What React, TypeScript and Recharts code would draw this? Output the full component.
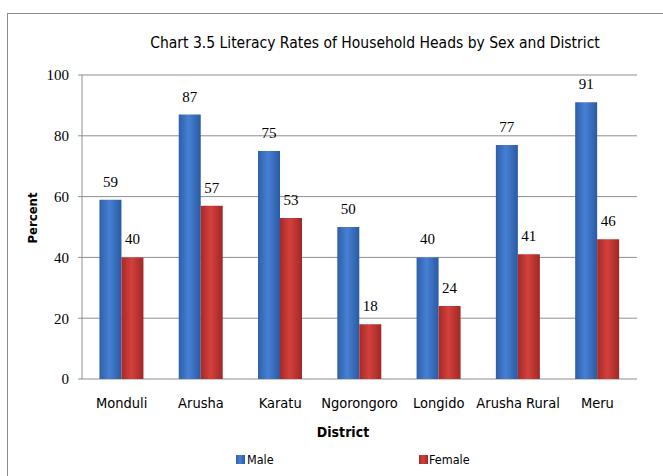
import React from "react";
import {
  BarChart,
  Bar,
  XAxis,
  YAxis,
  CartesianGrid,
  LabelList,
} from "recharts";

const districts = ["Monduli", "Arusha", "Karatu", "Ngorongoro", "Longido", "Arusha Rural", "Meru"];
const male = [59, 87, 75, 50, 40, 77, 91];
const female = [40, 57, 53, 18, 24, 41, 46];
const yTicks = [0, 20, 40, 60, 80, 100];
const boundaryTicks = [0, 1, 2, 3, 4, 5, 6, 7];

const data = districts.map((d, i) => ({ district: d, Male: male[i], Female: female[i] }));

const NARROW = "'DejaVu Sans Condensed', 'Liberation Sans Narrow', sans-serif";
const SERIF = "'Liberation Serif', 'DejaVu Serif', serif";

export default function App() {
  return (
    <div style={{ position: "absolute", left: 0, top: 0, width: 663, height: 476, overflow: "hidden", background: "#fff" }}>
      <div
        style={{
          position: "absolute",
          left: 7,
          top: 13,
          width: 700,
          height: 500,
          border: "1px solid #8c8c8c",
          boxSizing: "border-box",
        }}
      />
      <div style={{ position: "absolute", left: 0, top: 0 }}>
        <BarChart
          width={663}
          height={476}
          data={data}
          margin={{ top: 75, right: 26, bottom: 0, left: 0 }}
          barCategoryGap="22%"
          barGap={0}
        >
          <defs>
            <linearGradient id="gMale" x1="0" y1="0" x2="1" y2="0">
              <stop offset="0%" stopColor="#2f5fa8" />
              <stop offset="45%" stopColor="#4680d4" />
              <stop offset="100%" stopColor="#2b5aa2" />
            </linearGradient>
            <linearGradient id="gFemale" x1="0" y1="0" x2="1" y2="0">
              <stop offset="0%" stopColor="#a42a28" />
              <stop offset="45%" stopColor="#d4403b" />
              <stop offset="100%" stopColor="#a02826" />
            </linearGradient>
          </defs>
          <CartesianGrid vertical={false} stroke="#8f8f8f" strokeWidth={1} />
          <XAxis
            xAxisId="b"
            type="number"
            domain={[0, 7]}
            ticks={boundaryTicks}
            allowDataOverflow
            height={0}
            axisLine={{ stroke: "#8f8f8f" }}
            tickLine={{ stroke: "#8f8f8f" }}
            tickSize={5}
            tickFormatter={() => ""}
          />
          <XAxis
            xAxisId="cat"
            dataKey="district"
            height={97}
            axisLine={false}
            tickLine={false}
            tickMargin={13}
            tick={{ fill: "#000", fontSize: 14.5, fontFamily: NARROW }}
            interval={0}
          />
          <YAxis
            domain={[0, 100]}
            ticks={yTicks}
            width={82}
            axisLine={{ stroke: "#8f8f8f" }}
            tickLine={{ stroke: "#8f8f8f" }}
            tickSize={4}
            tickMargin={9}
            tick={{ fill: "#000", fontSize: 15, fontFamily: SERIF }}
          />
          <Bar xAxisId="cat" dataKey="Male" fill="url(#gMale)" isAnimationActive={false}>
            <LabelList dataKey="Male" position="top" offset={13} fill="#000" fontSize={15} fontFamily={SERIF} />
          </Bar>
          <Bar xAxisId="cat" dataKey="Female" fill="url(#gFemale)" isAnimationActive={false}>
            <LabelList dataKey="Female" position="top" offset={13} fill="#000" fontSize={15} fontFamily={SERIF} />
          </Bar>
          <text x={375} y={48} textAnchor="middle" fontSize={15.5} fontFamily={NARROW} fill="#000">
            Chart 3.5 Literacy Rates of Household Heads by Sex and District
          </text>
          <text x={343} y={437} textAnchor="middle" fontSize={14} fontWeight="bold" fontFamily={NARROW} fill="#000">
            District
          </text>
          <text
            x={33}
            y={218}
            textAnchor="middle"
            dominantBaseline="middle"
            fontSize={13}
            fontWeight="bold"
            fontFamily={NARROW}
            fill="#000"
            transform="rotate(-90 33 218)"
          >
            Percent
          </text>
          <rect x={236} y={455} width={9} height={9} fill="url(#gMale)" />
          <text x={247} y={464} fontSize={12.5} fontFamily={NARROW} fill="#000">Male</text>
          <rect x={419} y={455} width={9} height={9} fill="url(#gFemale)" />
          <text x={429} y={464} fontSize={12.5} fontFamily={NARROW} fill="#000">Female</text>
        </BarChart>
      </div>
    </div>
  );
}
